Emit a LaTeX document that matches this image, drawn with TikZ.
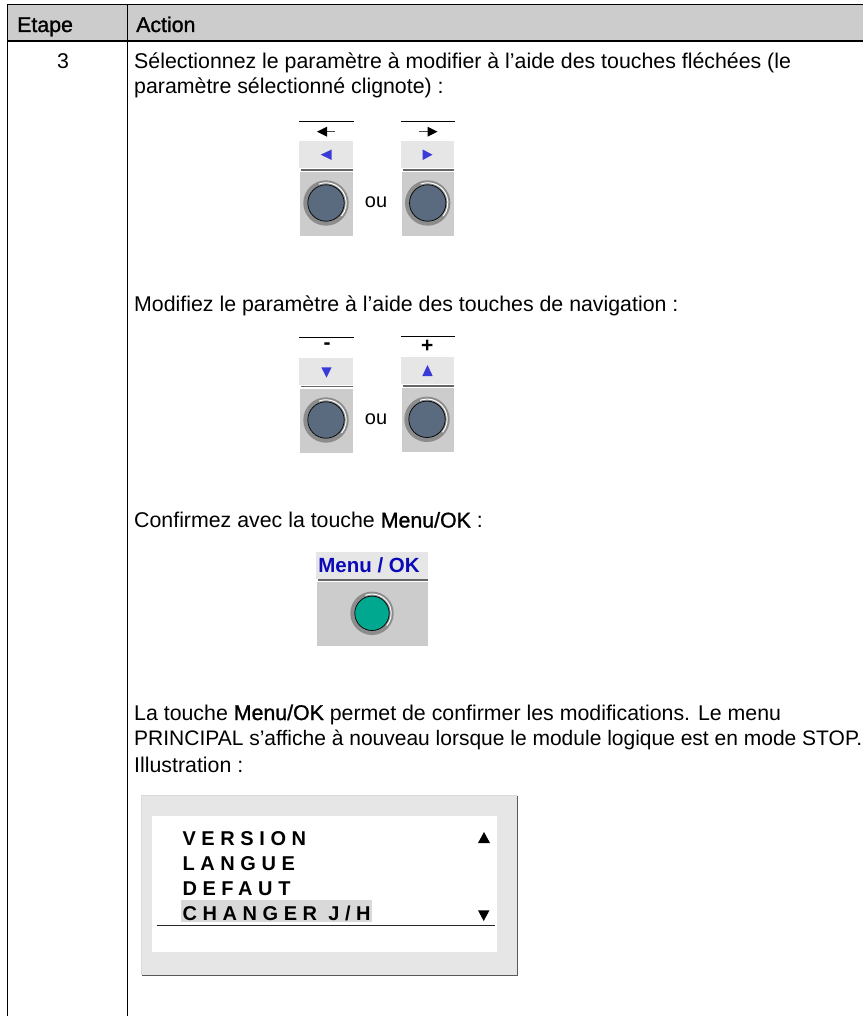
\documentclass[tikz,border=0pt]{standalone}
\usepackage{fontspec}
\setmainfont{Liberation Sans}
\newfontfamily\fakebold[FakeBold=1.2]{Liberation Sans}
\newfontfamily\lcdfont[LetterSpace=28]{Liberation Sans Bold}
\newfontfamily\realbold{Liberation Sans Bold}
\definecolor{headgrey}{HTML}{CCCCCC}
\definecolor{panelgrey}{HTML}{E6E6E6}
\definecolor{lineblue}{HTML}{3A3AD8}
\definecolor{steel}{HTML}{5A6B7F}
\definecolor{teal}{HTML}{00A88F}
\definecolor{menublue}{HTML}{0A0AB8}
\tikzset{
  rule/.style={draw=black,line width=1.2pt},
  body/.style={inner sep=0pt,anchor=base west,font=\fontsize{21.33}{24}\selectfont},
  head/.style={inner sep=0pt,anchor=base west,font=\fontsize{21.33}{24}\fakebold},
  lcd/.style={inner sep=0pt,anchor=base west,font=\fontsize{20}{22}\lcdfont},
  ouword/.style={inner sep=0pt,font=\fontsize{20}{22}\selectfont},
  keyline/.style={draw=black,line width=0.9pt},
  keydiv/.style={draw=black!60,line width=1.2pt},
  bluetip/.style={fill=lineblue},
  blacktip/.style={fill=black}
}
\newcommand{\keycap}[7]{%
  \fill[panelgrey] (#1,#3) rectangle (#2,#3+27);
  \draw[keydiv] (#1+2,#3+29) -- (#2,#3+29);
  \fill[headgrey] (#1+1,#3+31) rectangle (#2,#3+95);
  \keyround{#4}{#5}{#6}{#7}}
\newcommand{\keyround}[4]{%
  \fill[black!45] (#1,#2) circle (#4);
  \draw[white,line width=1pt] (#1,#2)+(-110:#4-2.5) arc (-110:40:#4-2.5);
  \draw[fill=#3,draw=black,line width=0.7pt] (#1,#2) circle (#4-4.5);}
\begin{document}
\begin{tikzpicture}[x=1pt,y=-1pt]
\useasboundingbox (0,0) rectangle (863,1016);
\fill[white] (0,0) rectangle (863,1016);
\fill[headgrey] (7.5,4.5) rectangle (863,41);
\draw[rule] (7.5,1016) -- (7.5,4.5) -- (863,4.5);
\draw[rule] (7.5,41) -- (863,41);
\draw[rule] (127.5,4.5) -- (127.5,1016);
\node[head] (hetape) at (17,32) {Etape};
\node[head] (haction) at (136,32) {Action};
\node[body] (step) at (57,69) {3};
\node[body] (t1) at (134,69) {Sélectionnez le paramètre à modifier à l'aide des touches fléchées (le};
\node[body] (t2) at (134,94) {paramètre sélectionné clignote) :};
\node[body] (t3) at (134,311) {Modifiez le paramètre à l'aide des touches de navigation :};
\node[body] (t4) at (134,527.5) {Confirmez avec la touche {\fakebold Menu/OK} :};
\node[body] (t5) at (134,720) {La touche {\fakebold Menu/OK} permet de confirmer les modifications. Le menu};
\node[body,font=\fontsize{21}{24}\selectfont] (t6) at (134,745.5) {PRINCIPAL s'affiche à nouveau lorsque le module logique est en mode STOP.};
\node[body] (t7) at (134,772) {Illustration :};
\draw[keyline] (299,121.3) -- (354,121.3);
\draw[keyline] (401,121.3) -- (455,121.3);
\draw[black!70,line width=1pt] (323,131.7) -- (335,131.7);
\fill[black] (317,131.7) -- (327,126.7) -- (327,136.7) -- cycle;
\draw[black!70,line width=1pt] (419,131.7) -- (431,131.7);
\fill[black] (437.5,131.7) -- (427.5,126.7) -- (427.5,136.7) -- cycle;
\keycap{299}{353}{141}{326}{203}{steel}{22.7}
\keycap{401}{454}{141}{427.7}{203}{steel}{22.7}
\fill[bluetip] (320.7,154.7) -- (331.7,149.5) -- (331.7,160) -- cycle;
\fill[bluetip] (432.5,154.7) -- (422.7,149.5) -- (422.7,160) -- cycle;
\node[ouword] (ou1) at (376,202) {ou};
\draw[keyline] (299,337.3) -- (354,337.3);
\draw[keyline] (401,336.3) -- (455,336.3);
\node[inner sep=0pt,font=\fontsize{21}{22}\realbold] (minus) at (327,346) {-};
\node[inner sep=0pt,font=\fontsize{21}{22}\realbold] (plus) at (427.3,346) {+};
\keycap{299}{353}{357.7}{326}{420}{steel}{22.7}
\keycap{401}{454}{357}{427}{419.3}{steel}{22.7}
\fill[bluetip] (321.3,367.3) -- (331.7,367.3) -- (326.5,377.7) -- cycle;
\fill[bluetip] (422.3,376) -- (432.7,376) -- (427.5,365) -- cycle;
\node[ouword] (ou2) at (376,419) {ou};
\fill[panelgrey] (316,552.3) rectangle (428,578.7);
\draw[keydiv] (317.7,580) -- (428,580);
\fill[headgrey] (317,582) rectangle (427.7,646);
\keyround{372}{613.3}{teal}{21.7}
\node[inner sep=0pt,text=menublue,font=\fontsize{20.5}{22}\realbold] (menuok) at (369,565.5) {Menu / OK};
\fill[black!15] (141,795) rectangle (517,975);
\fill[panelgrey] (142,796) rectangle (517,975);
\draw[black!65,line width=1pt] (142,975.3) -- (517.3,975.3) -- (517.3,796);
\fill[white] (152,816) rectangle (496.7,951.7);
\fill[black!15] (181,900.3) rectangle (372,921.7);
\node[lcd] (l1) at (182.3,845) {VERSION};
\node[lcd] (l2) at (182.3,870) {LANGUE};
\node[lcd] (l3) at (182.3,895.3) {DEFAUT};
\node[lcd] (l4) at (182.3,920) {CHANGER J/H};
\draw[black!85,line width=0.8pt] (156.7,925.3) -- (495,925.3);
\fill[blacktip] (478,843) -- (490,843) -- (484,832) -- cycle;
\fill[blacktip] (478,910.3) -- (489.5,910.3) -- (483.7,921) -- cycle;
\end{tikzpicture}
\end{document}
